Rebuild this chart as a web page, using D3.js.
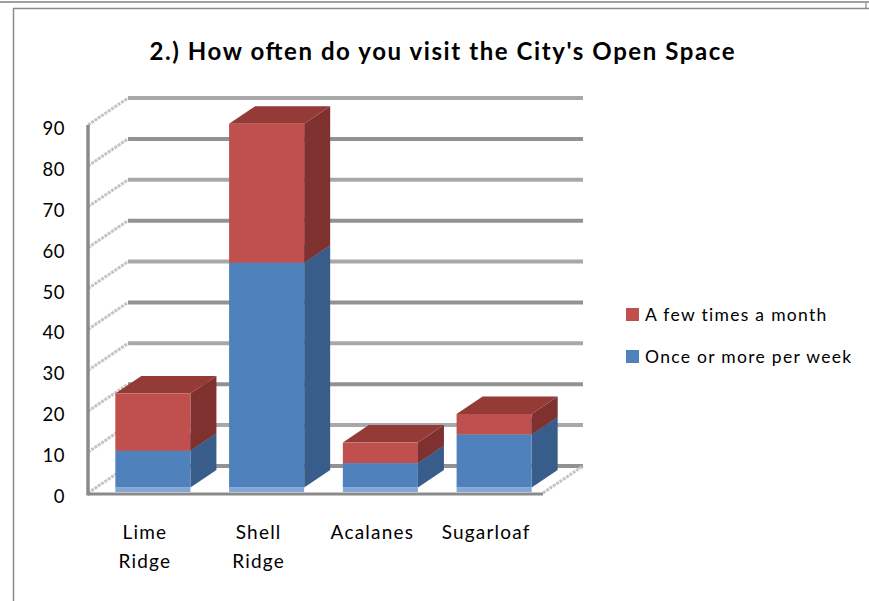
<!DOCTYPE html>
<html>
<head>
<meta charset="utf-8">
<script src="https://cdn.jsdelivr.net/npm/d3@7"></script>
<style>
  body { margin: 0; background: #fff; }
  text { font-family: Lato, "Open Sans", sans-serif; fill: #000; }
</style>
</head>
<body>
<svg id="chart" width="869" height="601"></svg>
<script>
const titleText = "2.) How often do you visit the City's Open Space"
const categories = ['Lime Ridge', 'Shell Ridge', 'Acalanes', 'Sugarloaf']
const onceOrMore = [9, 55, 6, 13]
const fewTimes = [14, 34, 5, 5]
const seriesNames = ['Once or more per week', 'A few times a month']
const yTicks = [0, 10, 20, 30, 40, 50, 60, 70, 80, 90]

const svg = d3.select('#chart')
const width = +svg.attr('width')

// frame
svg.append('line').attr('x1', 0).attr('x2', width).attr('y1', 2).attr('y2', 2)
  .attr('stroke', '#a0a0a0').attr('stroke-width', 2)
svg.append('line').attr('x1', 866).attr('x2', 866).attr('y1', 2).attr('y2', 9)
  .attr('stroke', '#a0a0a0').attr('stroke-width', 1.5)
svg.append('rect').attr('x', 13.5).attr('y', 8.5).attr('width', 880).attr('height', 620)
  .attr('fill', 'none').attr('stroke', '#8c8c8c').attr('stroke-width', 1.5)

svg.append('text')
  .attr('x', 442).attr('y', 60)
  .attr('text-anchor', 'middle')
  .attr('textLength', 585).attr('lengthAdjust', 'spacing')
  .style('font-size', '24px').style('font-weight', 'bold')
  .text(titleText)

// 3d geometry: front plane plus a depth vector
const depthX = 40
const depthY = -27
const x = d3.scaleBand().domain(categories).range([88, 543]).paddingInner(0.34).paddingOuter(0.17)
const y = d3.scaleLinear().domain([0, 90]).range([493, 125])
const proj = (px, v, z) => [px + z * depthX, y(v) + z * depthY]
const barZ0 = 0.2
const barZ1 = 0.85

const rows = categories.map((c, i) => ({ cat: c, once: onceOrMore[i], few: fewTimes[i] }))
const stack = d3.stack().keys(['once', 'few'])(rows)
const colors = {
  once: { front: '#4f81bd', side: '#385d8a', top: '#4470a6' },
  few: { front: '#c0504d', side: '#7f312f', top: '#943a37' }
}

// back wall gridlines
const grid = svg.append('g')
grid.selectAll('.back').data(yTicks).enter().append('line')
  .attr('x1', d => proj(88, d, 1)[0]).attr('y1', d => proj(88, d, 1)[1])
  .attr('x2', d => proj(543, d, 1)[0]).attr('y2', d => proj(543, d, 1)[1])
  .attr('stroke', (d, i) => i % 2 ? '#a8a8a8' : '#929292').attr('stroke-width', 4)

// side wall diagonals
grid.selectAll('.side').data(yTicks).enter().append('line')
  .attr('x1', d => proj(88, d, 0)[0]).attr('y1', d => proj(88, d, 0)[1])
  .attr('x2', d => proj(88, d, 1)[0]).attr('y2', d => proj(88, d, 1)[1])
  .attr('stroke', '#c4c4c4').attr('stroke-width', 3).attr('stroke-dasharray', '3,1')

// floor right edge
grid.append('line')
  .attr('x1', proj(543, 0, 0)[0]).attr('y1', proj(543, 0, 0)[1])
  .attr('x2', proj(543, 0, 1)[0]).attr('y2', proj(543, 0, 1)[1])
  .attr('stroke', '#c4c4c4').attr('stroke-width', 3).attr('stroke-dasharray', '3,1')

// floor front edge and vertical axis
grid.append('line').attr('x1', 88).attr('x2', 543).attr('y1', y(0) + 1).attr('y2', y(0) + 1)
  .attr('stroke', '#8a8a8a').attr('stroke-width', 3)
grid.append('line').attr('x1', 88).attr('x2', 88).attr('y1', y(90)).attr('y2', y(0) + 2.5)
  .attr('stroke', '#8a8a8a').attr('stroke-width', 3.5)

// bars
const bars = svg.append('g')
stack.forEach(layer => {
  const col = colors[layer.key]
  const g = bars.append('g')
  layer.forEach(seg => {
    const xl = x(seg.data.cat)
    const xr = xl + x.bandwidth()
    const [fx0, fy0] = proj(xl, seg[0], barZ0)
    const [fx1, fy1] = proj(xr, seg[1], barZ0)
    const [bx1, by1] = proj(xr, seg[1], barZ1)
    const [, by0] = proj(xr, seg[0], barZ1)
    const [bx0] = proj(xl, seg[1], barZ1)
    g.append('polygon')
      .attr('points', [[fx1, fy1], [bx1, by1], [bx1, by0], [fx1, fy0]].join(' '))
      .attr('fill', col.side)
    g.append('polygon')
      .attr('points', [[fx0, fy1], [fx1, fy1], [bx1, by1], [bx0, by1]].join(' '))
      .attr('fill', col.top)
    g.append('rect')
      .attr('x', fx0).attr('y', fy1)
      .attr('width', fx1 - fx0).attr('height', fy0 - fy1)
      .attr('fill', col.front)
    if (seg[0] === 0) {
      g.append('rect')
        .attr('x', fx0).attr('y', fy0)
        .attr('width', fx1 - fx0).attr('height', y(0) - 1 - fy0)
        .attr('fill', '#84a8d6')
    }
  })
})

// y tick labels
svg.append('g').selectAll('text').data(yTicks).enter().append('text')
  .attr('x', 65).attr('y', d => y(d) + 3.5)
  .attr('dy', '0.35em').attr('text-anchor', 'end')
  .style('font-size', '18.5px').style('letter-spacing', '0.5px')
  .text(d => d)

// category labels
const catLabels = svg.append('g').selectAll('text').data(categories).enter().append('text')
  .attr('text-anchor', 'middle')
  .style('font-size', '19px').style('letter-spacing', '1.2px')
catLabels.each(function (d) {
  const words = d.split(' ')
  const t = d3.select(this)
  words.forEach((w, i) => {
    t.append('tspan')
      .attr('x', x(d) + x.bandwidth() / 2)
      .attr('y', 539 + i * 29)
      .text(w)
  })
})

// legend
const legendItems = [
  { name: seriesNames[1], color: colors.few.front },
  { name: seriesNames[0], color: colors.once.front }
]
const legend = svg.append('g').selectAll('g').data(legendItems).enter().append('g')
  .attr('transform', (d, i) => `translate(626,${308 + i * 42})`)
legend.append('rect').attr('width', 13).attr('height', 13).attr('fill', d => d.color)
legend.append('text').attr('x', 19).attr('y', 12.5)
  .style('font-size', '17.5px').style('letter-spacing', '1.3px')
  .text(d => d.name)
</script>
</body>
</html>
